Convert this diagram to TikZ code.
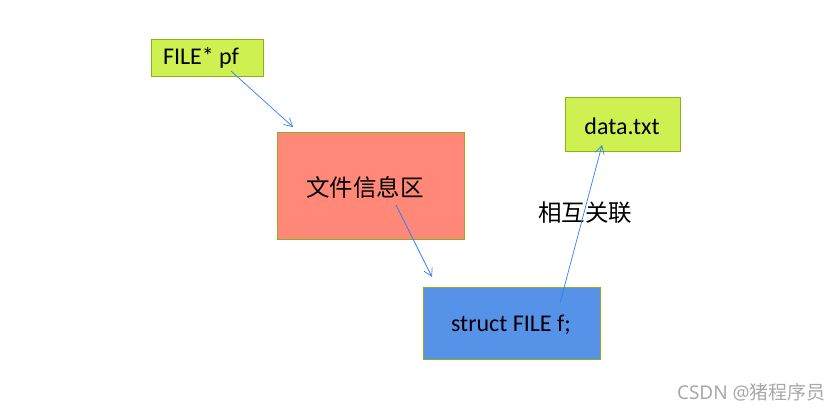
\documentclass[tikz,border=0pt]{standalone}
\usepackage{fontspec}
\setmainfont{Carlito}
\newfontfamily\cjk{Noto Sans CJK SC}
\usetikzlibrary{arrows.meta}
\definecolor{limefill}{HTML}{CEF050}
\definecolor{boxedge}{HTML}{8CB01C}
\definecolor{salmon}{HTML}{FF8878}
\definecolor{bluefill}{HTML}{5592E8}
\definecolor{arrowblue}{HTML}{2F7FF5}
\definecolor{wmgray}{HTML}{A8A8A8}
\tikzset{
  box/.style={draw=boxedge, line width=0.8pt, inner sep=0pt, anchor=north west},
  lbl/.style={font=\fontsize{24}{28}\selectfont, text=black},
  cjklbl/.style={font=\cjk\fontsize{23.5}{28}\selectfont, text=black},
  link/.style={draw=arrowblue, line width=0.7pt, -{Straight Barb[length=8pt,width=9pt,line width=0.7pt]}},
}
\begin{document}
\begin{tikzpicture}[x=1pt,y=-1pt]
\useasboundingbox (0,0) rectangle (840,412);
% boxes
\node[box, fill=limefill, minimum width=112pt, minimum height=37pt] (pfbox) at (151,39) {};
\node[lbl] (pf) at (201,58) {FILE* pf};
\node[box, fill=salmon, minimum width=187pt, minimum height=107pt] (infobox) at (277,132) {};
\node[cjklbl] (info) at (365,187) {文件信息区};
\node[box, fill=limefill, minimum width=115pt, minimum height=54pt] (databox) at (565,97) {};
\node[lbl] (data) at (622,126) {data.txt};
\node[box, fill=bluefill, minimum width=177pt, minimum height=72pt] (fbox) at (423,287) {};
\node[lbl] (f) at (511,325) {struct FILE f;};
\node[cjklbl] (rel) at (585,213) {相互关联};
% connector end points
\coordinate (a1s) at (231,71);
\coordinate (a1e) at (293,127);
\coordinate (a2s) at (396,205);
\coordinate (a2e) at (432,277);
\coordinate (a3s) at (560,303);
\coordinate (a3e) at (602,145);
\draw[link] (a1s) -- (a1e);
\draw[link] (a2s) -- (a2e);
\draw[link] (a3s) -- (a3e);
% watermark
\node[text=wmgray, font=\fontsize{19}{22}\selectfont, anchor=east, inner sep=0pt] (wm) at (826,392) {\fontspec{Noto Sans}CSDN @\cjk 猪程序员};
\end{tikzpicture}
\end{document}
